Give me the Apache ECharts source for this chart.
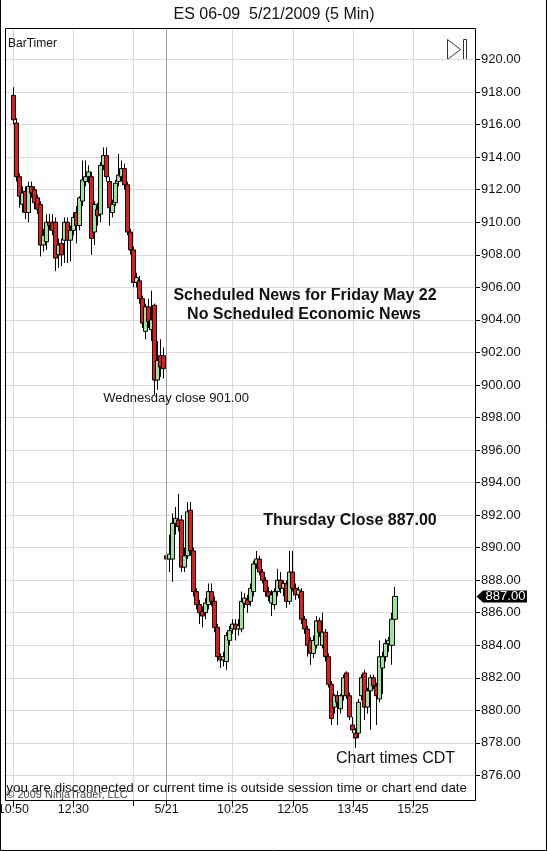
<!DOCTYPE html>
<html><head><meta charset="utf-8">
<script src="https://cdn.jsdelivr.net/npm/echarts@6/dist/echarts.min.js"></script>
<style>html,body{margin:0;padding:0;background:#fff}#c{width:548px;height:851px}</style>
</head><body><div id="c"></div>
<script>
// ES 06-09, 5-minute bars. Index 0 = Wed 10:50, index 51 = Thu 8:35 (first bar of 5/21)
const open = [
917.8,916.1,912.8,911.1,911.9,910.6,912.2,912.0,911.5,911.1,
908.6,908.8,910.0,910.0,910.0,908.0,908.7,908.9,910.0,908.9,
909.5,910.6,909.8,911.3,912.5,912.8,912.8,909.4,910.8,910.5,
913.5,914.1,912.5,910.6,911.2,912.5,912.8,913.3,912.3,909.4,
908.3,906.3,906.4,905.3,903.3,904.8,903.4,904.9,900.3,901.8,
901.8,
889.5,889.3,889.3,891.5,891.7,891.7,888.8,889.5,892.3,889.8,
887.3,886.5,886.1,886.0,886.5,887.3,886.7,885.1,883.3,883.1,
883.0,884.3,885.0,885.3,885.0,885.0,886.6,886.8,886.7,887.3,
889.0,889.3,888.5,888.0,887.3,886.6,886.5,887.3,888.0,887.5,
887.8,886.7,888.5,887.5,887.1,887.3,885.6,885.0,884.3,883.5,
884.0,885.5,884.0,884.8,883.3,881.6,880.2,880.9,880.1,880.9,
882.3,880.9,879.1,878.6,878.6,880.9,882.3,880.2,881.2,882.0,
881.5,880.7,882.6,883.3,884.1,884.0,885.6
];
const high = [
918.3,916.4,913.0,912.2,912.2,912.5,912.5,912.2,911.7,911.3,
909.6,910.5,910.5,910.5,910.3,909.0,909.0,910.3,910.3,909.8,
910.6,911.0,911.6,913.8,913.8,913.5,913.1,911.3,911.2,913.7,
914.6,914.6,912.8,911.4,912.6,914.2,913.8,913.6,912.5,909.6,
908.5,906.9,906.7,905.5,905.0,905.3,905.8,905.0,902.7,902.8,
902.3,
890.3,890.8,892.1,892.5,893.3,892.0,890.0,892.8,892.8,890.0,
887.5,886.8,886.4,886.9,887.8,887.8,887.0,885.3,883.5,883.6,
884.8,885.2,885.6,885.6,885.6,887.3,887.2,887.1,887.8,889.2,
889.8,889.5,888.7,888.2,887.6,887.4,887.5,888.7,888.5,888.0,
888.0,889.8,889.8,887.8,887.6,887.5,885.8,885.2,884.5,884.6,
885.8,885.7,886.0,885.0,883.5,881.8,881.0,881.2,881.0,882.2,
882.4,881.1,879.6,878.9,880.7,882.2,882.5,881.4,882.2,882.2,
881.7,884.3,883.6,884.4,884.5,886.0,887.6
];
const low = [
916.0,912.5,910.9,910.6,910.2,910.0,911.5,910.8,910.5,907.9,
908.2,908.3,909.5,909.2,907.0,907.2,907.3,907.5,907.5,907.6,
909.2,908.7,909.5,911.0,912.2,912.4,908.0,908.6,909.8,910.0,
913.2,912.5,909.8,910.3,911.0,912.2,912.5,912.0,909.2,908.0,
906.0,906.0,905.0,903.5,902.8,903.5,902.7,899.4,899.7,900.5,
900.4,
887.7,888.5,887.9,890.8,891.0,888.5,888.5,889.3,889.5,887.0,
886.2,885.3,885.1,885.6,886.2,886.4,884.8,883.0,882.6,882.7,
882.5,884.0,884.7,884.3,884.6,884.8,886.3,886.0,886.4,887.0,
888.7,888.3,887.8,887.0,886.7,885.8,886.2,887.0,887.2,887.0,
886.3,886.5,887.3,886.8,886.9,885.3,884.7,883.3,882.8,883.2,
883.8,884.5,883.8,883.0,881.4,879.1,879.8,879.1,879.8,880.6,
880.7,879.4,878.6,877.7,878.3,880.6,879.4,879.8,878.8,881.3,
879.1,880.5,881.0,883.0,883.6,882.8,885.3
];
const close = [
916.3,912.8,911.6,911.8,910.6,912.2,911.8,911.2,910.8,908.6,
909.2,910.0,909.8,909.5,907.8,908.6,908.0,910.0,908.9,909.5,
910.3,909.8,911.5,912.6,912.8,913.1,909.0,911.1,910.4,913.5,
914.1,912.8,910.9,911.1,912.4,912.9,913.3,912.3,909.4,908.3,
906.3,906.6,905.3,903.8,904.8,903.9,904.0,900.3,901.5,901.1,
901.0,
889.3,889.6,891.5,891.8,891.3,888.8,889.5,892.2,889.8,887.3,
886.5,886.0,885.8,886.6,887.3,886.7,885.1,883.3,883.1,883.3,
884.6,884.9,885.3,885.0,885.2,886.7,886.9,886.5,887.5,889.0,
889.3,888.5,888.0,887.3,887.0,887.1,887.3,888.0,887.5,887.8,
886.7,888.5,887.5,887.1,887.4,885.6,885.0,884.0,883.5,884.3,
885.5,884.8,884.8,883.3,881.6,879.5,880.9,880.5,880.9,882.0,
880.9,879.6,878.8,878.3,880.5,882.0,880.2,881.2,882.0,881.5,
880.9,883.3,883.3,884.1,884.3,885.6,887.0
];
const xTickIndex  = [0, 20, 40, 51, 73, 93, 113, 133];
const xTickLabels = ['10:50', '12:30', '', '5/21', '10:25', '12:05', '13:45', '15:25'];
const yTicks = [876,878,880,882,884,886,888,890,892,894,896,898,900,902,904,906,908,910,912,914,916,918,920];
const dayBreakIndex = 51;

const FONT = 'Liberation Sans, Arial, sans-serif';
const firstCat = -3, lastCat = 154;
const cats = [];
for (let i = firstCat; i <= lastCat; i++) cats.push(String(i));
const seriesData = cats.map(c => {
  const i = +c;
  return (i >= 0 && i < close.length) ? [open[i], close[i], low[i], high[i]] : '-';
});
const tickFn = (idx, val) => xTickIndex.indexOf(+val) >= 0;
const labFn = (val) => { const k = xTickIndex.indexOf(+val); return k >= 0 ? xTickLabels[k] : ''; };

const chart = echarts.init(document.getElementById('c'), null, {renderer: 'canvas'});
const txt = (id, x, y, text, font, opts) => Object.assign({
  type: 'text', id: id, x: x, y: y, silent: true, z: 100,
  style: Object.assign({text: text, font: font + ' ' + FONT, fill: '#111', textAlign: 'left', textVerticalAlign: 'middle'}, opts || {})
});
chart.setOption({
  animation: false,
  backgroundColor: '#fff',
  grid: {left: 4.3, right: 71.9, top: 28, bottom: 51, containLabel: false, outerBoundsMode: 'none'},
  xAxis: {
    type: 'category', data: cats, boundaryGap: false,
    axisLine: {show: false},
    axisTick: {show: true, interval: tickFn, length: 6, lineStyle: {color: '#000', width: 1}},
    axisLabel: {interval: tickFn, formatter: labFn, fontSize: 12.5, color: '#111', margin: 3, fontFamily: FONT},
    splitLine: {show: true, interval: tickFn, lineStyle: {color: '#d9d9d9', width: 1}}
  },
  yAxis: {
    type: 'value', position: 'right', min: 874.49, max: 921.94, offset: -1.1,
    axisLine: {show: false},
    axisTick: {show: true, length: 5, customValues: yTicks, lineStyle: {color: '#000', width: 1}},
    axisLabel: {customValues: yTicks, formatter: v => v.toFixed(2), fontSize: 13, color: '#111', margin: 6, fontFamily: FONT},
    splitLine: {show: true, lineStyle: {color: '#d9d9d9', width: 1}}
  },
  series: [{
    type: 'candlestick', data: seriesData, barWidth: 4.6,
    itemStyle: {color: '#9be59b', color0: '#e3191c', borderColor: '#000', borderColor0: '#000', borderColorDoji: '#000', borderWidth: 1},
    markLine: {
      silent: true, symbol: ['none', 'none'], label: {show: false},
      lineStyle: {color: '#a0a0a0', width: 1, type: 'solid'},
      data: [{xAxis: String(dayBreakIndex)}]
    }
  }],
  graphic: [
    {type: 'polyline', id: 'outer', silent: true, shape: {points: [[0.5, 0], [0.5, 850.5], [546.5, 850.5], [546.5, 0]]}, style: {stroke: '#000', lineWidth: 1, fill: null}},
    {type: 'rect', id: 'frame', silent: true, z: 90, shape: {x: 5.5, y: 28.5, width: 470, height: 772}, style: {stroke: '#000', lineWidth: 1, fill: null}},
    txt('title', 274, 15, 'ES 06-09  5/21/2009 (5 Min)', '16px', {textAlign: 'center'}),
    txt('bartimer', 8, 44, 'BarTimer', '12px'),
    {type: 'polygon', id: 'icoTri', silent: true, shape: {points: [[447.5, 39.5], [447.5, 59.5], [460.5, 49.5]]}, style: {stroke: '#333', lineWidth: 1, fill: null}},
    {type: 'rect', id: 'icoBar', silent: true, shape: {x: 463.5, y: 39.5, width: 3, height: 20}, style: {stroke: '#333', lineWidth: 1, fill: null}},
    txt('news1', 305, 295.5, 'Scheduled News for Friday May 22', 'bold 16px', {textAlign: 'center'}),
    txt('news2', 304, 314.5, 'No Scheduled Economic News', 'bold 16px', {textAlign: 'center'}),
    txt('wed', 103.3, 398.5, 'Wednesday close 901.00', '13px'),
    txt('thu', 350, 521, 'Thursday Close 887.00', 'bold 16px', {textAlign: 'center'}),
    txt('cdt', 395.5, 759, 'Chart times CDT', '16px', {textAlign: 'center'}),
    txt('disc', 6.3, 788, 'you are disconnected or current time is outside session time or chart end date', '13.4px'),
    txt('copy', 6.3, 795, '\u00a9 2009 NinjaTrader, LLC', '11px', {fill: '#444'})
  ]
});
const lastClose = close[close.length - 1];
const py = chart.convertToPixel({yAxisIndex: 0}, lastClose);
chart.setOption({
  graphic: [
    {type: 'polygon', id: 'priceBox', silent: true, z: 110, shape: {points: [[476.5, py], [483, py - 6], [527, py - 6], [527, py + 6], [483, py + 6]]}, style: {fill: '#000'}},
    Object.assign(txt('priceTxt', 505.5, py, lastClose.toFixed(2), '13px', {textAlign: 'center', fill: '#fff'}), {z: 120})
  ]
});
</script></body></html>
